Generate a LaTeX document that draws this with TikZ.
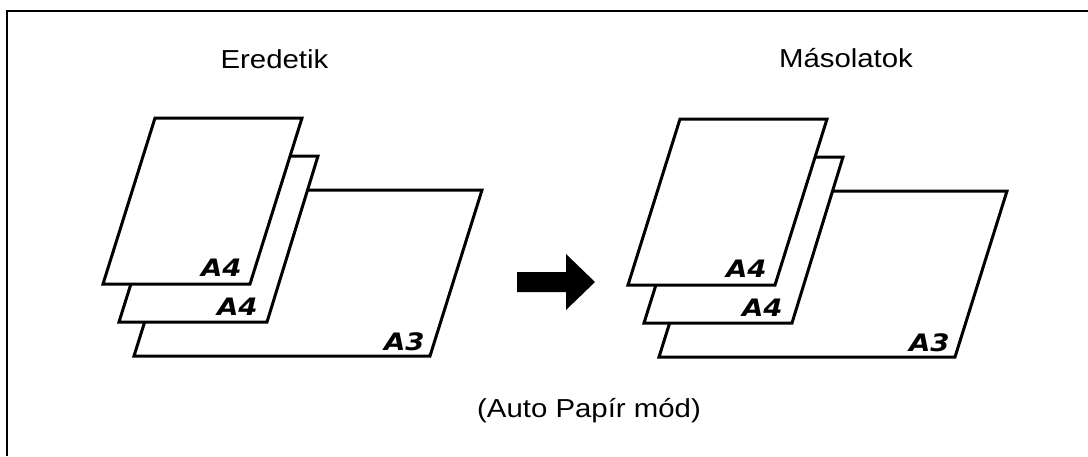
\documentclass[tikz,border=0pt]{standalone}
\usepackage{fontspec}
\setmainfont[FakeStretch=1.13]{Liberation Sans}
\newfontfamily\sizefont[FakeStretch=1.15]{DejaVu Sans}

\begin{document}
\begin{tikzpicture}[x=0.5pt,y=-0.5pt,
        sheet/.style={draw,fill=white,line width=1.5pt,line join=miter},
        title/.style={font=\fontsize{13}{15}\selectfont,anchor=base,inner sep=0pt},
        size/.style={font=\fontsize{12}{14}\sizefont\bfseries\itshape,
                     anchor=base east,inner sep=0pt}]
        \useasboundingbox (0,0) rectangle (1088,456);
        \draw[line width=1pt] (7,456) -- (7,11) -- (1088,11);

        \node[title] (orig) at (274.5,68) {Eredetik};
        \node[title] (copy) at (846,67) {Másolatok};
        \node[title] (mode) at (589,417) {(Auto Papír mód)};

        \foreach \dx/\dy/\g in {0/0/l,525/1/r} {
            \begin{scope}[shift={(\dx,\dy)}]
                \draw[sheet] (186,190) -- (482,190) -- (430,356) -- (134,356) -- cycle;
                \draw[sheet] (171,156) -- (318,156) -- (267,322) -- (119,322) -- cycle;
                \draw[sheet] (155,118) -- (302,118) -- (250,284) -- (103,284) -- cycle;
                \node[size] (a3-\g) at (425,350) {A3};
                \node[size] (a4b-\g) at (258,315) {A4};
                \node[size] (a4f-\g) at (242,276) {A4};
            \end{scope}
        }

        \fill (517,272) -- (566,272) -- (566,254) -- (595,282) -- (566,310)
              -- (566,292) -- (517,292) -- cycle;
    \end{tikzpicture}
\end{document}
